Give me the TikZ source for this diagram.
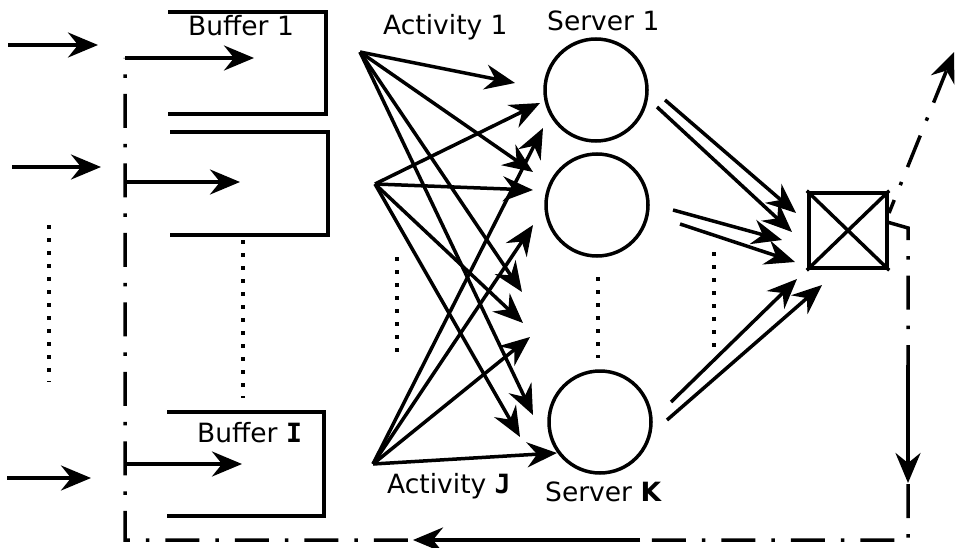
\documentclass[tikz,border=0pt]{standalone}
\usepackage{fontspec}
\setmainfont{DejaVu Sans}
\newfontfamily\monobold{DejaVu Sans Mono Bold}
\usetikzlibrary{arrows.meta}
\begin{document}
\begin{tikzpicture}[x=1pt,y=-1pt,
  arr/.style={line width=3.5pt,-{Stealth[length=30pt,width=25pt,inset=10pt]}},
  dotline/.style={line width=3.5pt,dash pattern=on 3.5pt off 9.5pt},
  dashdot/.style={line width=3.5pt,dash pattern=on 34pt off 16pt on 3.5pt off 16pt},
  buf/.style={line width=4.5pt},
  srv/.style={circle,draw,line width=3.5pt,minimum size=102pt,inner sep=0pt},
  boxst/.style={draw,line width=4.5pt,minimum width=78pt,minimum height=75pt,inner sep=0pt},
  lbl/.style={font=\fontsize{26.5}{30}\selectfont,inner sep=0pt,anchor=base west}]
\useasboundingbox (0,0) rectangle (957,548);

% buffers
\draw[buf] (168,12) -| (326,114) -- (168,114);
\draw[buf] (170,132) -| (328,235) -- (170,235);
\draw[buf] (167,412) -| (324,516) -- (167,516);

% labels
\node[lbl] (lb1) at (188,36) {Buffer 1};
\node[lbl] (lbI) at (197,442) {Buffer {\monobold I}};
\node[lbl] (la1) at (383,35) {Activity 1};
\node[lbl] (laJ) at (387,493) {Activity {\monobold J}};
\node[lbl] (ls1) at (547,31) {Server 1};
\node[lbl] (lsK) at (545,501) {Server \textbf{K}};

% servers
\node[srv] (s1) at (596,90) {};
\node[srv] (s2) at (597,205) {};
\node[srv] (sK) at (600,422) {};

% box
\node[boxst] (box) at (848,230.5) {};
\draw[line width=3.5pt] (box.north west) -- (box.south east);
\draw[line width=3.5pt] (box.north east) -- (box.south west);

% input arrows
\coordinate (in1s) at (8,45);   \coordinate (in1e) at (98,45);
\coordinate (in2s) at (12,167); \coordinate (in2e) at (101,167);
\coordinate (in3s) at (7,478);  \coordinate (in3e) at (91,478);
\draw[arr] (in1s) -- (in1e);
\draw[arr] (in2s) -- (in2e);
\draw[arr] (in3s) -- (in3e);

% feedback loop
\coordinate (fb0) at (887,222);
\coordinate (fb1) at (908,228);
\coordinate (fb2) at (908,540);
\coordinate (fb3) at (125,540);
\coordinate (fb4) at (125,58);
\coordinate (b1e) at (254,58);
\draw[dashdot] (fb0) -- (fb1) -- (fb2) -- (fb3) -- (fb4);
\draw[arr] (fb4) -- (b1e);
\coordinate (b2s) at (125,182); \coordinate (b2e) at (240,182);
\coordinate (b3s) at (124,464); \coordinate (b3e) at (242,464);
\draw[arr] (b2s) -- (b2e);
\draw[arr] (b3s) -- (b3e);
\coordinate (ar1s) at (908,365); \coordinate (ar1e) at (908,483);
\coordinate (ar2s) at (640,540); \coordinate (ar2e) at (413,540);
\draw[arr] (ar1s) -- (ar1e);
\draw[arr] (ar2s) -- (ar2e);

% output
\coordinate (outs) at (889,213); \coordinate (oute) at (954,52);
\draw[dashdot,dash phase=20pt,-{Stealth[length=30pt,width=25pt,inset=10pt]}] (outs) -- (oute);

% activities
\coordinate (a1) at (360,52);
\coordinate (a2) at (375,184);
\coordinate (aJ) at (373,464);
\coordinate (t11) at (515,83);  \coordinate (t12) at (533,172);
\coordinate (t13) at (522,292); \coordinate (t14) at (533,415);
\coordinate (t21) at (540,103); \coordinate (t22) at (533,190);
\coordinate (t23) at (523,323); \coordinate (t24) at (520,437);
\coordinate (tJ1) at (543,128); \coordinate (tJ2) at (533,225);
\coordinate (tJ3) at (530,337); \coordinate (tJ4) at (557,453);
\foreach \t in {t11,t12,t13,t14} \draw[arr] (a1) -- (\t);
\foreach \t in {t21,t22,t23,t24} \draw[arr] (a2) -- (\t);
\foreach \t in {tJ1,tJ2,tJ3,tJ4} \draw[arr] (aJ) -- (\t);

% server to box
\coordinate (p1s) at (665,100); \coordinate (p1e) at (796,213);
\coordinate (p2s) at (657,107); \coordinate (p2e) at (792,232);
\coordinate (p3s) at (673,210); \coordinate (p3e) at (782,240);
\coordinate (p4s) at (680,224); \coordinate (p4e) at (795,262);
\coordinate (p5s) at (671,402); \coordinate (p5e) at (797,279);
\coordinate (p6s) at (667,420); \coordinate (p6e) at (822,285);
\foreach \i in {1,...,6} \draw[arr] (p\i s) -- (p\i e);

% dotted ellipses
\draw[dotline] (49,225) -- (49,382);
\draw[dotline] (243,240) -- (243,398);
\draw[dotline] (397,257) -- (397,360);
\draw[dotline] (598,277) -- (598,358);
\draw[dotline] (714,252) -- (714,356);
\end{tikzpicture}
\end{document}
